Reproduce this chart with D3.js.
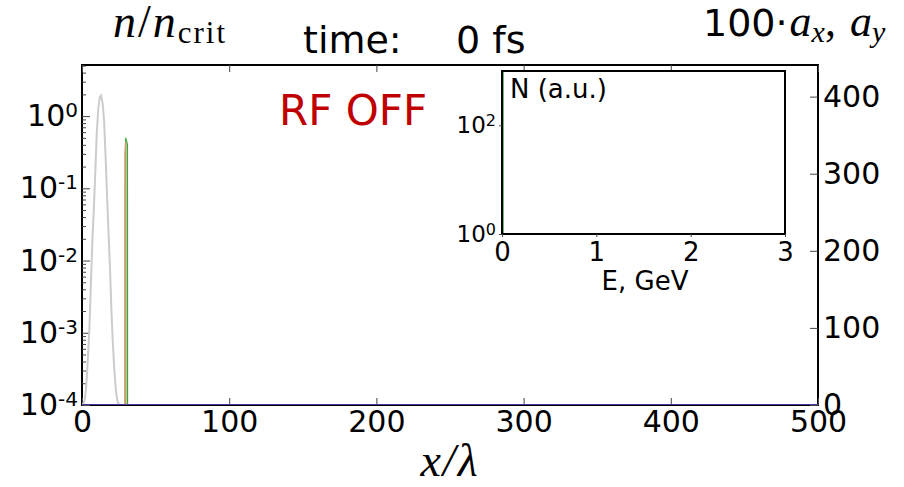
<!DOCTYPE html>
<html>
<head>
<meta charset="utf-8">
<script src="https://cdnjs.cloudflare.com/ajax/libs/d3/7.8.5/d3.min.js"></script>
<style>
  body { margin: 0; background: #fff; }
  svg { display: block; font-family: "DejaVu Sans", sans-serif; }
  .math { font-family: "Liberation Serif", serif; font-style: italic; }
</style>
</head>
<body>
<div id="chart"></div>
<script>
// grey pulse density (left log axis)
var pulseX = [0, 1, 2, 3, 4, 5, 6, 7, 8, 9, 10, 11, 12, 13, 14, 15, 16, 17, 18, 19, 20, 21, 22, 23, 24, 25, 27]
var pulseN = [1.0e-4, 1.05e-4, 1.2e-4, 2e-4, 4.5e-4, 1.1e-3, 4.5e-3, 0.018, 0.05, 0.16, 0.56, 1.23, 1.82, 1.93,
              1.5, 0.87, 0.28, 0.08, 0.025, 0.008, 2e-3, 7e-4, 3e-4, 1.6e-4, 1.15e-4, 1.03e-4, 1e-5]
// thin foil: ions (tan) and electrons (green)
var ionX = [29.1, 29.2, 29.7, 29.8]
var ionN = [1e-6, 0.3, 0.44, 1e-6]
var eleX = [29.6, 29.7, 30.9, 31.0]
var eleN = [1e-6, 0.5, 0.4, 1e-6]
// fields, 100*a_x and 100*a_y (right axis)
var fieldX = [0, 100, 200, 300, 400, 500]
var ax = [0, 0, 0, 0, 0, 0]
var ay = [0, 0, 0, 0, 0, 0]
// inset spectrum
var specE = [0, 0.01, 0.01, 3]
var specN = [1e4, 1e4, 1, 1]

var xTicks = [0, 100, 200, 300, 400, 500]
var yLeftTicks = [1e-4, 1e-3, 1e-2, 1e-1, 1]
var yRightTicks = [0, 100, 200, 300, 400]
var insetXTicks = [0, 1, 2, 3]
var insetYTicks = [1, 100]

var width = 904, height = 487
var svg = d3.select("#chart").append("svg").attr("width", width).attr("height", height)

var mL = 82, mR = 818, mT = 65, mB = 405
var x = d3.scaleLinear().domain([0, 500]).range([mL, mR])
var yL = d3.scaleLog().domain([1e-4, 5.1]).range([mB, mT])
var yR = d3.scaleLinear().domain([0, 441]).range([mB, mT])

svg.append("clipPath").attr("id", "clipMain")
  .append("rect").attr("x", mL).attr("y", mT).attr("width", mR - mL).attr("height", mB - mT)

function supLabel(sel, size) {
  // turn "10^e" tick text into 10 with superscript
  sel.each(function(d) {
    var t = d3.select(this), e = Math.round(Math.log10(d))
    t.text("10")
    t.append("tspan").attr("dy", "-0.45em").attr("font-size", size).text(e)
  })
}

// frame
svg.append("rect").attr("x", mL).attr("y", mT).attr("width", mR - mL).attr("height", mB - mT)
  .attr("fill", "none").attr("stroke", "#000").attr("stroke-width", 2)

// bottom axis
var gx = svg.append("g").attr("transform", "translate(0," + mB + ")")
  .call(d3.axisBottom(x).tickValues(xTicks).tickSize(-7).tickPadding(6).tickFormat(d3.format("d")))
// top ticks
var gxt = svg.append("g").attr("transform", "translate(0," + mT + ")")
  .call(d3.axisTop(x).tickValues(xTicks).tickSize(-7).tickFormat(""))

// left axis
var minor = []
for (var e = -4; e <= 0; e++) for (var k = 2; k <= 9; k++) { var v = k * Math.pow(10, e); if (v <= 5.1) minor.push(v) }
var gyl = svg.append("g").attr("transform", "translate(" + mL + ",0)")
  .call(d3.axisLeft(yL).tickValues(yLeftTicks).tickSize(-8).tickPadding(4))
gyl.selectAll("text").call(supLabel, 20)
var gylm = svg.append("g").attr("transform", "translate(" + mL + ",0)")
  .call(d3.axisLeft(yL).tickValues(minor).tickSize(-4).tickFormat(""))

// right axis
var gyr = svg.append("g").attr("transform", "translate(" + mR + ",0)")
  .call(d3.axisRight(yR).tickValues(yRightTicks).tickSize(-8).tickPadding(5))

;[gx, gxt, gyl, gylm, gyr].forEach(function(g) {
  g.select(".domain").remove()
  g.selectAll("line").attr("stroke", "#444").attr("stroke-width", 1)
  g.selectAll("text").attr("font-size", 30).attr("font-family", "DejaVu Sans").attr("fill", "#000")
})
gyl.selectAll("text tspan").attr("font-size", 20)

// data lines
var plot = svg.append("g").attr("clip-path", "url(#clipMain)")
function logLine(xs, ys) {
  return d3.line().x(function(d, i) { return x(xs[i]) }).y(function(d) { return yL(Math.max(d, 1e-6)) })(ys)
}
plot.append("path").attr("d", logLine(pulseX, pulseN))
  .attr("fill", "none").attr("stroke", "#cccccc").attr("stroke-width", 2)
plot.append("path").attr("d", logLine(eleX, eleN))
  .attr("fill", "none").attr("stroke", "#3aa83a").attr("stroke-width", 1.2)
plot.append("path").attr("d", logLine(ionX, ionN))
  .attr("fill", "none").attr("stroke", "#c4a070").attr("stroke-width", 1.6)
var fieldLine = d3.line().x(function(d, i) { return x(fieldX[i]) }).y(function(d) { return yR(d) })
plot.append("path").attr("d", fieldLine(ay)).attr("fill", "none").attr("stroke", "#cc3333").attr("stroke-width", 1.5)
plot.append("path").attr("d", fieldLine(ax)).attr("fill", "none").attr("stroke", "#3333cc").attr("stroke-width", 1.5)

// inset
var iL = 502, iR = 785, iT = 71, iB = 234
var xi = d3.scaleLinear().domain([0, 3]).range([iL, iR])
var yi = d3.scaleLog().domain([1, 1000]).range([iB, iT])
svg.append("clipPath").attr("id", "clipInset")
  .append("rect").attr("x", iL).attr("y", iT).attr("width", iR - iL).attr("height", iB - iT)
svg.append("rect").attr("x", iL).attr("y", iT).attr("width", iR - iL).attr("height", iB - iT).attr("fill", "#fff")
svg.append("g").attr("clip-path", "url(#clipInset)").append("path")
  .attr("d", d3.line().x(function(d, i) { return xi(specE[i]) }).y(function(d) { return yi(d) })(specN))
  .attr("fill", "none").attr("stroke", "#2e9e2e").attr("stroke-width", 1.5)
svg.append("rect").attr("x", iL).attr("y", iT).attr("width", iR - iL).attr("height", iB - iT)
  .attr("fill", "none").attr("stroke", "#000").attr("stroke-width", 2)

var gix = svg.append("g").attr("transform", "translate(0," + iB + ")")
  .call(d3.axisBottom(xi).tickValues(insetXTicks).tickSize(3).tickPadding(6).tickFormat(d3.format("d")))
var giy = svg.append("g").attr("transform", "translate(" + iL + ",0)")
  .call(d3.axisLeft(yi).tickValues(insetYTicks).tickSize(3).tickPadding(3))
giy.selectAll("text").call(supLabel, 16)
;[gix, giy].forEach(function(g) {
  g.select(".domain").remove()
  g.selectAll("line").attr("stroke", "#444")
  g.selectAll("text").attr("font-family", "DejaVu Sans").attr("fill", "#000")
})
gix.selectAll("text").attr("font-size", 26)
giy.selectAll("text").attr("font-size", 23)
giy.selectAll("text tspan").attr("font-size", 16)

svg.append("text").attr("x", 510).attr("y", 98).attr("font-size", 26).text("N (a.u.)")
svg.append("text").attr("x", 645).attr("y", 290).attr("font-size", 26).attr("text-anchor", "middle").text("E, GeV")

// titles and labels
svg.append("text").attr("x", 303).attr("y", 53).attr("font-size", 38).text("time:")
svg.append("text").attr("x", 456).attr("y", 53).attr("font-size", 38).text("0 fs")
svg.append("text").attr("x", 279).attr("y", 125).attr("font-size", 42).attr("fill", "#c00000").text("RF OFF")

var nl = svg.append("text").attr("x", 113).attr("y", 37).attr("font-size", 46)
  .attr("font-family", "Liberation Serif").attr("letter-spacing", 2)
nl.append("tspan").attr("font-style", "italic").text("n")
nl.append("tspan").text("/")
nl.append("tspan").attr("font-style", "italic").text("n")
nl.append("tspan").attr("font-size", 31).attr("dy", 6).text("crit")

var al = svg.append("text").attr("x", 703).attr("y", 36).attr("font-size", 38)
al.append("tspan").text("100·")
al.append("tspan").attr("font-family", "Liberation Serif").attr("font-style", "italic").attr("font-size", 44).attr("dx", 2).text("a")
al.append("tspan").attr("font-family", "Liberation Serif").attr("font-style", "italic").attr("font-size", 30).attr("dy", 6).text("x")
al.append("tspan").attr("font-family", "Liberation Serif").attr("font-size", 44).attr("dy", -6).text(",")
al.append("tspan").attr("font-family", "Liberation Serif").attr("font-style", "italic").attr("font-size", 44).attr("dx", 14).text("a")
al.append("tspan").attr("font-family", "Liberation Serif").attr("font-style", "italic").attr("font-size", 30).attr("dy", 6).text("y")

svg.append("text").attr("class", "math").attr("x", 450).attr("y", 476).attr("font-size", 46)
  .attr("text-anchor", "middle").attr("letter-spacing", 2).text("x/λ")
</script>
</body>
</html>
